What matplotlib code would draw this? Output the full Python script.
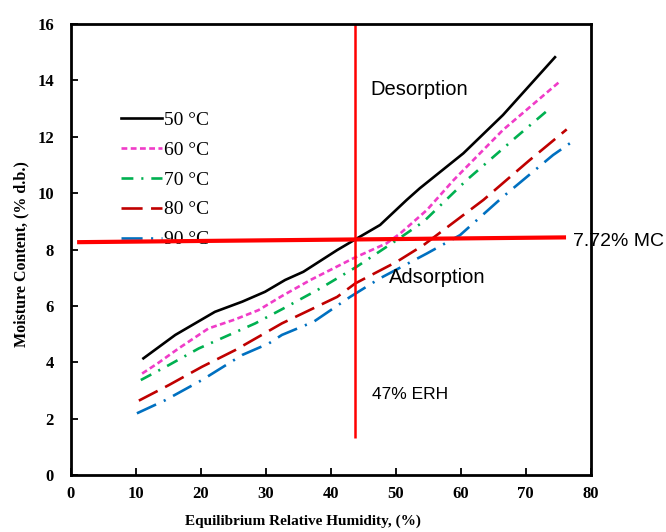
import matplotlib
matplotlib.use("Agg")
import matplotlib.pyplot as plt

# ---- data ----
erh_50 = [11.2, 16.1, 22.2, 26.4, 29.9, 33.0, 35.8, 41.0, 43.8, 47.6, 51.7, 53.7, 60.4, 66.5, 74.5]
mc_50 = [4.14, 4.97, 5.79, 6.15, 6.50, 6.92, 7.21, 7.98, 8.36, 8.87, 9.76, 10.17, 11.41, 12.77, 14.82]

erh_60 = [11.0, 13.5, 16.6, 21.2, 25.3, 28.9, 32.5, 36.9, 43.5, 48.6, 50.7, 54.8, 58.9, 66.5, 75.2]
mc_60 = [3.60, 3.98, 4.49, 5.20, 5.52, 5.85, 6.35, 6.92, 7.69, 8.22, 8.57, 9.40, 10.46, 12.24, 13.95]

erh_70 = [10.8, 15.1, 19.7, 23.8, 28.4, 32.5, 38.4, 44.0, 50.2, 54.3, 60.9, 68.6, 74.0]
mc_70 = [3.37, 3.90, 4.49, 4.91, 5.38, 5.88, 6.62, 7.39, 8.34, 8.99, 10.46, 12.0, 13.06]

erh_80 = [10.5, 15.1, 20.2, 25.3, 29.4, 32.5, 41.0, 43.8, 50.2, 54.3, 63.5, 70.6, 76.3]
mc_80 = [2.64, 3.19, 3.84, 4.43, 4.97, 5.38, 6.32, 6.80, 7.57, 8.16, 9.76, 11.17, 12.26]

erh_90 = [10.2, 14.6, 20.2, 26.4, 30.5, 32.5, 37.4, 43.0, 47.6, 54.8, 59.9, 66.5, 74.2, 77.5]
mc_90 = [2.19, 2.66, 3.37, 4.26, 4.67, 4.97, 5.44, 6.32, 6.98, 7.86, 8.51, 9.87, 11.35, 11.88]

labels = ["50 \u00b0C", "60 \u00b0C", "70 \u00b0C", "80 \u00b0C", "90 \u00b0C"]

# reference lines
vline_x = [43.8, 43.8]
vline_y = [16.0, 1.31]
hline_x = [1.0, 76.2]
hline_y = [8.26, 8.43]

x_ticks = [0, 10, 20, 30, 40, 50, 60, 70, 80]
y_ticks = [0, 2, 4, 6, 8, 10, 12, 14, 16]

# ---- figure ----
fig = plt.figure(figsize=(6.66, 5.32), dpi=100)
ax = fig.add_axes([0.106, 0.107, 0.781, 0.848])

serif = ["Liberation Serif", "DejaVu Serif"]
sans = ["Liberation Sans", "DejaVu Sans"]

lw = 1.9
ax.plot(erh_50, mc_50, color="black", lw=lw, ls="-", label=labels[0])
ax.plot(erh_60, mc_60, color="#F03CC8", lw=lw, ls=(0, (2.2, 1.3)), label=labels[1])
ax.plot(erh_70, mc_70, color="#00B050", lw=lw, ls=(0, (4.5, 3.0, 0.8, 3.0)), label=labels[2])
ax.plot(erh_80, mc_80, color="#C00000", lw=lw, ls=(0, (8.0, 3.2)), label=labels[3])
ax.plot(erh_90, mc_90, color="#0070C0", lw=lw, ls=(0, (8.0, 3.2, 0.8, 3.2)), label=labels[4])

ax.plot(vline_x, vline_y, color="#FF0000", lw=1.8, solid_capstyle="butt", zorder=6)
ax.plot(hline_x, hline_y, color="#FF0000", lw=3.0, solid_capstyle="butt", zorder=6)

ax.text(46.1, 13.69, "Desorption", fontsize=14.5, family=sans, va="center", ha="left")
ax.text(49.0, 6.99, "Adsorption", fontsize=14.5, family=sans, va="center", ha="left")
ax.text(46.4, 2.84, "47% ERH", fontsize=12.5, family=sans, va="center", ha="left")
ax.text(77.3, 8.30, "7.72% MC", fontsize=14, family=sans, va="center", ha="left",
        clip_on=False)

ax.set_xlim(0, 80)
ax.set_ylim(0, 16)
ax.set_xticks(x_ticks)
ax.set_yticks(y_ticks)
ax.tick_params(direction="in", length=5, width=1.3)
ax.tick_params(axis="y", pad=12)
ax.tick_params(axis="x", pad=8)
for lab in ax.get_xticklabels() + ax.get_yticklabels():
    lab.set_family(serif)
    lab.set_fontweight("bold")
    lab.set_fontsize(12)
for sp in ax.spines.values():
    sp.set_linewidth(2.0)
    sp.set_color("black")
    sp.set_zorder(7)

ax.set_xlabel("Equilibrium Relative Humidity, (%)", family=serif, fontweight="bold",
              fontsize=11)
ax.xaxis.set_label_coords(0.447, -0.088)
ax.set_ylabel("Moisture Content, (% d.b.)", family=serif, fontweight="bold",
              fontsize=11.5)
ax.yaxis.set_label_coords(-0.08, 0.49)

leg = ax.legend(loc="upper left", bbox_to_anchor=(0.079, 0.828), frameon=False,
                prop={"family": serif, "size": 14}, handlelength=2.1,
                handletextpad=0.08, labelspacing=0.63, borderpad=0)
leg.set_zorder(5)

fig.savefig("out.png", dpi=100)
